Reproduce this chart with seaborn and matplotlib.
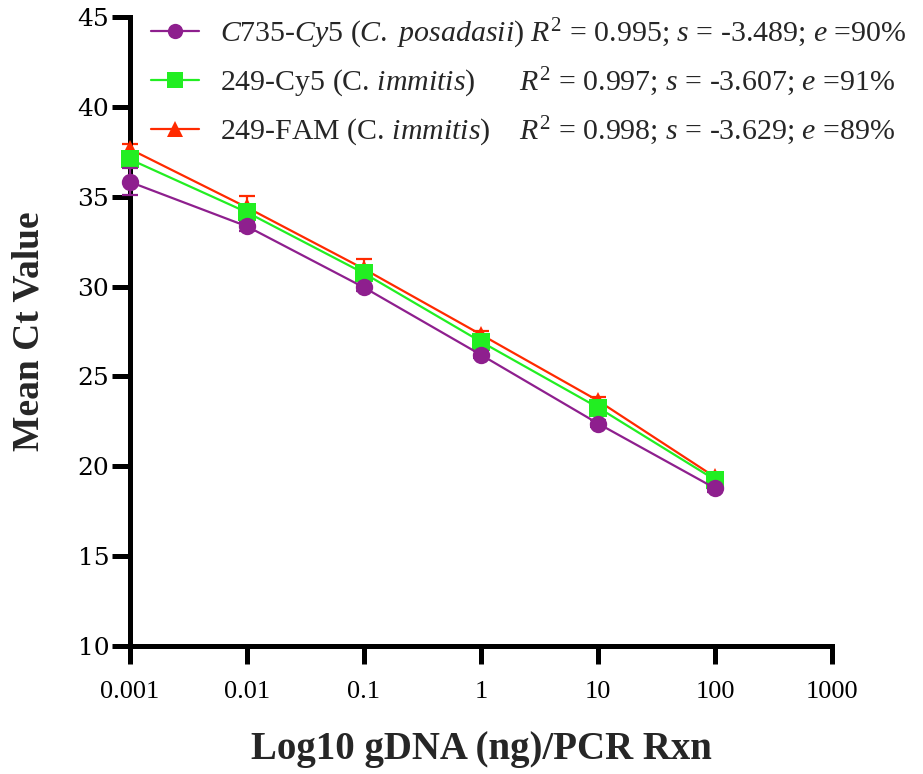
import numpy as np
import pandas as pd
import seaborn as sns
import matplotlib
matplotlib.use("Agg")
import matplotlib.pyplot as plt
from matplotlib.lines import Line2D

# ---------------- data ----------------
conc = [0.001, 0.01, 0.1, 1, 10, 100]
ct_c735_cy5 = [35.82, 33.35, 29.95, 26.20, 22.38, 18.78]
ct_249_cy5 = [37.08, 34.13, 30.74, 26.93, 23.27, 19.25]
ct_249_fam = [37.65, 34.40, 30.98, 27.33, 23.65, 19.40]
sd_c735_cy5 = [0.75, 0.25, 0.20, 0.20, 0.20, 0.20]
sd_249_cy5 = [0.30, 0.25, 0.25, 0.20, 0.20, 0.20]
sd_249_fam = [0.30, 0.62, 0.55, 0.20, 0.20, 0.15]
series_names = ["C735-Cy5", "249-Cy5", "249-FAM"]
legend_labels = [
    r"$\mathit{C735}$-$\mathit{Cy5\ (C.\ posadasii)}$ $R^2$ = 0.995; $s$ = -3.489; $e$ =90%",
    r"249-Cy5 (C. $\mathit{immitis}$)      $R^2$ = 0.997; $s$ = -3.607; $e$ =91%",
    r"249-FAM (C. $\mathit{immitis}$)    $R^2$ = 0.998; $s$ = -3.629; $e$ =89%",
]
xticks = [0.001, 0.01, 0.1, 1, 10, 100, 1000]
xtick_labels = ["0.001", "0.01", "0.1", "1", "10", "100", "1000"]
yticks = [10, 15, 20, 25, 30, 35, 40, 45]
xlabel = "Log10 gDNA (ng)/PCR Rxn"
ylabel = "Mean Ct Value"

colors = {"C735-Cy5": "#8E1F8E", "249-Cy5": "#22EE22", "249-FAM": "#FF2A00"}
markers = {"C735-Cy5": "o", "249-Cy5": "s", "249-FAM": "^"}

df = pd.DataFrame({
    "conc": conc * 3,
    "ct": ct_c735_cy5 + ct_249_cy5 + ct_249_fam,
    "sd": sd_c735_cy5 + sd_249_cy5 + sd_249_fam,
    "series": [s for s in series_names for _ in conc],
})

# ---------------- style ----------------
sns.set_theme(style="white")
plt.rcParams["font.family"] = ["Liberation Serif", "DejaVu Serif"]
plt.rcParams["mathtext.fontset"] = "custom"
plt.rcParams["mathtext.rm"] = "Liberation Serif"
plt.rcParams["mathtext.it"] = "Liberation Serif:italic"
plt.rcParams["mathtext.bf"] = "Liberation Serif:bold"

fig = plt.figure(figsize=(9.23, 7.74), dpi=100)
ax = fig.add_axes([130 / 923, 1 - 646 / 774, (832 - 130) / 923, (646 - 17) / 774])

draw_order = ["249-FAM", "249-Cy5", "C735-Cy5"]
for z, name in enumerate(draw_order):
    sub = df[df["series"] == name]
    eb = ax.errorbar(sub["conc"], sub["ct"], yerr=sub["sd"], fmt="none",
                     ecolor=colors[name], elinewidth=1.6, capsize=6, capthick=1.6,
                     zorder=2 + 2 * z)
    for art in eb.lines[1] + eb.lines[2]:
        art.set_clip_on(False)
    n_before = len(ax.lines)
    sns.lineplot(data=sub, x="conc", y="ct", color=colors[name],
                 marker=markers[name], markersize=12.5 if name != "249-FAM" else 13,
                 markeredgewidth=0, linewidth=1.6, ax=ax, zorder=3 + 2 * z,
                 legend=False, errorbar=None)
    for ln in ax.lines[n_before:]:
        ln.set_clip_on(False)

ax.set_xscale("log")
ax.set_xlim(0.001, 1000)
ax.set_ylim(10, 45)
ax.set_xticks(xticks)
ax.set_xticklabels(xtick_labels, fontsize=19)
ax.minorticks_off()
ax.set_yticks(yticks)
ax.set_yticklabels([str(v) for v in yticks], fontsize=18, family="DejaVu Serif")

for side in ["top", "right"]:
    ax.spines[side].set_visible(False)
for side in ["left", "bottom"]:
    ax.spines[side].set_linewidth(3.6)
    ax.spines[side].set_color("black")
    ax.spines[side].set_capstyle("projecting")
ax.tick_params(axis="both", which="major", bottom=True, left=True,
               direction="out", length=13, width=3.6, color="black",
               labelcolor="black")
ax.tick_params(axis="x", pad=12)
ax.tick_params(axis="y", pad=2)

ax.set_xlabel(xlabel, fontsize=28, fontweight="bold", labelpad=20)
ax.set_ylabel(ylabel, fontsize=27, fontweight="bold", labelpad=22)

# legend
handles = [Line2D([], [], color=colors[n], marker=markers[n], markersize=11,
                  markeredgewidth=0, linewidth=1.6) for n in series_names]
leg = fig.legend(handles, legend_labels, loc="upper right",
                 bbox_to_anchor=(1.0, 1.0), frameon=False, fontsize=21.5,
                 handlelength=1.6, handletextpad=0.7, labelspacing=0.5,
                 borderaxespad=0.15)

fig.savefig("out.png", dpi=100, facecolor="white")
